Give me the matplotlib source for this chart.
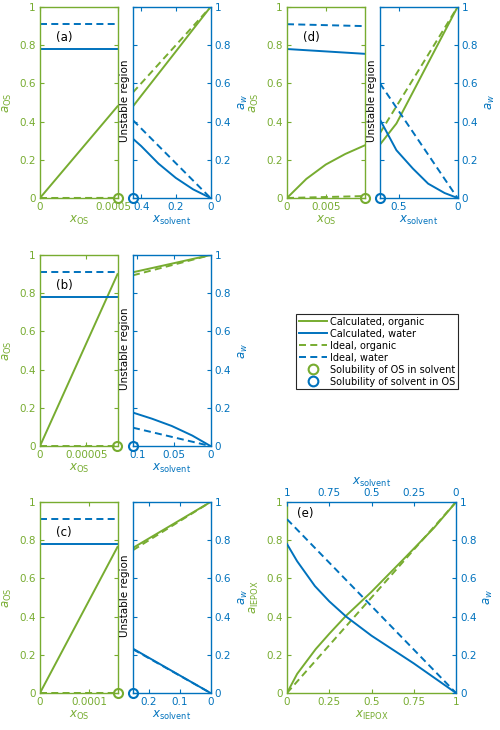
import matplotlib
matplotlib.use('Agg')
import matplotlib.pyplot as plt
import matplotlib.transforms as mtransforms
from matplotlib.lines import Line2D

GREEN = '#77AC30'
BLUE = '#0072BD'
DASH = (0, (3.6, 2.2))

YTICKS = [0, 0.2, 0.4, 0.6, 0.8, 1]
YTICKLABELS = ['0', '0.2', '0.4', '0.6', '0.8', '1']

# ---- panel (a) ----
A_XOS = [0, 0.0005]
A_OS_CALC = [0, 0.48]
A_OS_IDEAL = [0, 0.0005]
A_W_CALC_OS = [0.78, 0.78]
A_W_IDEAL_OS = [0.91, 0.91]
A_XOS_TICKS = [0, 0.0005]
A_XOS_LABELS = ['0', '0.0005']
A_XSOLV = [0.447, 0.4, 0.3, 0.2, 0.1, 0]
A_ORG_CALC = [0.48, 0.535, 0.651, 0.767, 0.884, 1.0]
A_W_CALC = [0.31, 0.272, 0.18, 0.105, 0.045, 0]
A_XSOLV_IDEAL = [0.447, 0]
A_ORG_IDEAL = [0.553, 1]
A_W_IDEAL = [0.407, 0]
A_XSOLV_TICKS = [0.4, 0.2, 0]
A_XSOLV_LABELS = ['0.4', '0.2', '0']

# ---- panel (b) ----
B_XOS = [0, 0.000084]
B_OS_CALC = [0, 0.90]
B_OS_IDEAL = [0, 0.000084]
B_W_CALC_OS = [0.78, 0.78]
B_W_IDEAL_OS = [0.91, 0.91]
B_XOS_TICKS = [0, 0.00005]
B_XOS_LABELS = ['0', '0.00005']
B_XSOLV = [0.106, 0.08, 0.053, 0.025, 0]
B_ORG_CALC = [0.91, 0.932, 0.955, 0.979, 1.0]
B_W_CALC = [0.175, 0.143, 0.105, 0.055, 0]
B_XSOLV_IDEAL = [0.106, 0]
B_ORG_IDEAL = [0.894, 1]
B_W_IDEAL = [0.096, 0]
B_XSOLV_TICKS = [0.1, 0.05, 0]
B_XSOLV_LABELS = ['0.1', '0.05', '0']

# ---- panel (c) ----
C_XOS = [0, 0.000157]
C_OS_CALC = [0, 0.765]
C_OS_IDEAL = [0, 0.000157]
C_W_CALC_OS = [0.78, 0.78]
C_W_IDEAL_OS = [0.91, 0.91]
C_XOS_TICKS = [0, 0.0001]
C_XOS_LABELS = ['0', '0.0001']
C_XSOLV = [0.252, 0]
C_ORG_CALC = [0.76, 1.0]
C_W_CALC = [0.232, 0]
C_XSOLV_IDEAL = [0.252, 0]
C_ORG_IDEAL = [0.748, 1]
C_W_IDEAL = [0.229, 0]
C_XSOLV_TICKS = [0.2, 0.1, 0]
C_XSOLV_LABELS = ['0.2', '0.1', '0']

# ---- panel (d) ----
D_XOS = [0, 0.0025, 0.005, 0.0075, 0.01]
D_OS_CALC = [0, 0.10, 0.175, 0.23, 0.275]
D_XOS_LINE = [0, 0.01]
D_OS_IDEAL = [0, 0.01]
D_W_CALC_OS = [0.78, 0.755]
D_W_IDEAL_OS = [0.91, 0.90]
D_XOS_TICKS = [0, 0.005]
D_XOS_LABELS = ['0', '0.005']
D_XSOLV = [0.66, 0.52, 0.38, 0.25, 0.11, 0]
D_ORG_CALC = [0.28, 0.39, 0.554, 0.707, 0.871, 1.0]
D_W_CALC = [0.41, 0.25, 0.154, 0.075, 0.026, 0]
D_XSOLV_IDEAL = [0.66, 0]
D_ORG_IDEAL = [0.34, 1]
D_W_IDEAL = [0.60, 0]
D_XSOLV_TICKS = [0.5, 0]
D_XSOLV_LABELS = ['0.5', '0']

# ---- panel (e) ----
E_XIEPOX = [0, 0.06, 0.17, 0.25, 0.35, 0.5, 0.7, 0.87, 1]
E_IEPOX_CALC = [0, 0.10, 0.23, 0.31, 0.405, 0.53, 0.71, 0.865, 1]
E_XIEPOX_IDEAL = [0, 1]
E_IEPOX_IDEAL = [0, 1]
E_XSOLV = [1, 0.94, 0.835, 0.75, 0.65, 0.5, 0.25, 0]
E_W_CALC = [0.78, 0.69, 0.56, 0.48, 0.40, 0.30, 0.155, 0]
E_XSOLV_IDEAL = [1, 0]
E_W_IDEAL = [0.91, 0]
E_TICKS = [0, 0.25, 0.5, 0.75, 1]
E_TICKLABELS = ['0', '0.25', '0.5', '0.75', '1']

LW = 1.4


def style(ax, color):
    for sp in ax.spines.values():
        sp.set_color(color)
        sp.set_linewidth(1.0)
    ax.tick_params(which='both', direction='in', length=3, width=0.8,
                   colors=color, labelsize=7.5, pad=3)


def split_panel(fig, rect_l, rect_r, tag, left, right):
    # left: organic-rich side, x_OS axis
    ax = fig.add_axes(rect_l)
    style(ax, GREEN)
    (xos, os_calc), (xos_i, os_ideal), (xw, w_calc), (xw_i, w_ideal), ticks, labels = left
    ax.plot(xos, os_calc, color=GREEN, lw=LW)
    ax.plot(xos_i, os_ideal, color=GREEN, lw=LW, ls=DASH)
    ax.plot(xw, w_calc, color=BLUE, lw=LW)
    ax.plot(xw_i, w_ideal, color=BLUE, lw=LW, ls=DASH)
    ax.plot([xos[-1]], [0], 'o', mfc='none', mec=GREEN, ms=6.5, mew=1.5,
            clip_on=False, zorder=10)
    ax.set_xlim(0, xos[-1])
    ax.set_ylim(0, 1)
    ax.set_xticks(ticks)
    ax.set_xticklabels(labels)
    ax.set_yticks(YTICKS)
    ax.set_yticklabels(YTICKLABELS)
    ax.tick_params(top=True, right=True, labelleft=True, labelright=False)
    # the edge label sits a bit left of the axis end, as in the original
    shift = mtransforms.ScaledTranslation(-3 / 72, 0, fig.dpi_scale_trans)
    for lab in ax.get_xticklabels():
        if lab.get_text() == labels[-1] and ticks[-1] >= xos[-1] * 0.99:
            lab.set_transform(lab.get_transform() + shift)
    ax.set_xlabel(r'$x_{\mathrm{OS}}$', color=GREEN, fontsize=8.5, labelpad=1)
    ax.set_ylabel(r'$a_{\mathrm{OS}}$', color=GREEN, fontsize=8.5, labelpad=3.5)
    ax.text(0.31, 0.84, tag, transform=ax.transAxes, ha='center', va='center',
            fontsize=8.5, color='black')

    # right: solvent-rich side, x_solvent axis
    ar = fig.add_axes(rect_r)
    style(ar, BLUE)
    xs, org_calc, w_calc_r, xs_i, org_ideal, w_ideal_r, sticks, slabels = right
    ar.plot(xs, org_calc, color=GREEN, lw=LW)
    ar.plot(xs_i, org_ideal, color=GREEN, lw=LW, ls=DASH)
    ar.plot(xs, w_calc_r, color=BLUE, lw=LW)
    ar.plot(xs_i, w_ideal_r, color=BLUE, lw=LW, ls=DASH)
    ar.plot([xs[0]], [0], 'o', mfc='none', mec=BLUE, ms=6.5, mew=1.5,
            clip_on=False, zorder=10)
    ar.set_xlim(xs[0], 0)
    ar.set_ylim(0, 1)
    ar.set_xticks(sticks)
    ar.set_xticklabels(slabels)
    ar.set_yticks(YTICKS)
    ar.set_yticklabels(YTICKLABELS)
    ar.tick_params(top=True, left=True, right=True, labelleft=False, labelright=True)
    ar.yaxis.set_label_position('right')
    ar.set_xlabel(r'$x_{\mathrm{solvent}}$', color=BLUE, fontsize=8.5, labelpad=1)
    ar.set_ylabel(r'$a_w$', color=BLUE, fontsize=8.5, labelpad=4)
    ar.text(-0.1, 0.51, 'Unstable region', transform=ar.transAxes, rotation=90,
            ha='center', va='center', fontsize=7.5, color='black', zorder=20)


fig = plt.figure(figsize=(5, 7.3), dpi=100)

H = 0.2616
ROWS = [0.7288, 0.389, 0.0507]
COL0 = (0.080, 0.266)
COL1 = (0.574, 0.760)
W = 0.155

split_panel(fig, [COL0[0], ROWS[0], W, H], [COL0[1], ROWS[0], W, H], '(a)',
            ((A_XOS, A_OS_CALC), (A_XOS, A_OS_IDEAL), (A_XOS, A_W_CALC_OS),
             (A_XOS, A_W_IDEAL_OS), A_XOS_TICKS, A_XOS_LABELS),
            (A_XSOLV, A_ORG_CALC, A_W_CALC, A_XSOLV_IDEAL, A_ORG_IDEAL, A_W_IDEAL,
             A_XSOLV_TICKS, A_XSOLV_LABELS))
split_panel(fig, [COL0[0], ROWS[1], W, H], [COL0[1], ROWS[1], W, H], '(b)',
            ((B_XOS, B_OS_CALC), (B_XOS, B_OS_IDEAL), (B_XOS, B_W_CALC_OS),
             (B_XOS, B_W_IDEAL_OS), B_XOS_TICKS, B_XOS_LABELS),
            (B_XSOLV, B_ORG_CALC, B_W_CALC, B_XSOLV_IDEAL, B_ORG_IDEAL, B_W_IDEAL,
             B_XSOLV_TICKS, B_XSOLV_LABELS))
split_panel(fig, [COL0[0], ROWS[2], W, H], [COL0[1], ROWS[2], W, H], '(c)',
            ((C_XOS, C_OS_CALC), (C_XOS, C_OS_IDEAL), (C_XOS, C_W_CALC_OS),
             (C_XOS, C_W_IDEAL_OS), C_XOS_TICKS, C_XOS_LABELS),
            (C_XSOLV, C_ORG_CALC, C_W_CALC, C_XSOLV_IDEAL, C_ORG_IDEAL, C_W_IDEAL,
             C_XSOLV_TICKS, C_XSOLV_LABELS))
split_panel(fig, [COL1[0], ROWS[0], W, H], [COL1[1], ROWS[0], W, H], '(d)',
            ((D_XOS, D_OS_CALC), (D_XOS_LINE, D_OS_IDEAL), (D_XOS_LINE, D_W_CALC_OS),
             (D_XOS_LINE, D_W_IDEAL_OS), D_XOS_TICKS, D_XOS_LABELS),
            (D_XSOLV, D_ORG_CALC, D_W_CALC, D_XSOLV_IDEAL, D_ORG_IDEAL, D_W_IDEAL,
             D_XSOLV_TICKS, D_XSOLV_LABELS))

# ---- panel (e) ----
rect_e = [COL1[0], ROWS[2], 0.338, H]
ae = fig.add_axes(rect_e)
style(ae, GREEN)
ae.spines['top'].set_visible(False)
ae.spines['right'].set_visible(False)
ae.plot(E_XIEPOX, E_IEPOX_CALC, color=GREEN, lw=LW)
ae.plot(E_XIEPOX_IDEAL, E_IEPOX_IDEAL, color=GREEN, lw=LW, ls=DASH)
ae.set_xlim(0, 1)
ae.set_ylim(0, 1)
ae.set_xticks(E_TICKS)
ae.set_xticklabels(E_TICKLABELS)
ae.set_yticks(YTICKS)
ae.set_yticklabels(YTICKLABELS)
ae.set_xlabel(r'$x_{\mathrm{IEPOX}}$', color=GREEN, fontsize=8.5, labelpad=1)
ae.set_ylabel(r'$a_{\mathrm{IEPOX}}$', color=GREEN, fontsize=8.5, labelpad=3.5)
ae.text(0.106, 0.94, '(e)', transform=ae.transAxes, ha='center', va='center',
        fontsize=8.5, color='black')

aw = fig.add_axes(rect_e, facecolor='none')
style(aw, BLUE)
aw.spines['bottom'].set_visible(False)
aw.spines['left'].set_visible(False)
aw.plot(E_XSOLV, E_W_CALC, color=BLUE, lw=LW)
aw.plot(E_XSOLV_IDEAL, E_W_IDEAL, color=BLUE, lw=LW, ls=DASH)
aw.set_xlim(1, 0)
aw.set_ylim(0, 1)
aw.xaxis.tick_top()
aw.yaxis.tick_right()
aw.xaxis.set_label_position('top')
aw.yaxis.set_label_position('right')
aw.set_xticks(E_TICKS)
aw.set_xticklabels(E_TICKLABELS)
aw.set_yticks(YTICKS)
aw.set_yticklabels(YTICKLABELS)
aw.set_xlabel(r'$x_{\mathrm{solvent}}$', color=BLUE, fontsize=8.5, labelpad=2)
aw.set_ylabel(r'$a_w$', color=BLUE, fontsize=8.5, labelpad=4)

# ---- legend ----
handles = [
    Line2D([], [], color=GREEN, lw=LW, label='Calculated, organic'),
    Line2D([], [], color=BLUE, lw=LW, label='Calculated, water'),
    Line2D([], [], color=GREEN, lw=LW, ls=DASH, label='Ideal, organic'),
    Line2D([], [], color=BLUE, lw=LW, ls=DASH, label='Ideal, water'),
    Line2D([], [], color=GREEN, marker='o', ls='none', mfc='none', ms=7, mew=1.5,
           label='Solubility of OS in solvent'),
    Line2D([], [], color=BLUE, marker='o', ls='none', mfc='none', ms=7, mew=1.5,
           label='Solubility of solvent in OS'),
]
leg = fig.legend(handles=handles, loc='upper left', bbox_to_anchor=(0.592, 0.570),
                 fontsize=7, frameon=True, fancybox=False, edgecolor='#262626',
                 framealpha=1, handlelength=2.9, handletextpad=0.3,
                 labelspacing=0.2, borderpad=0.3, borderaxespad=0)
leg.get_frame().set_linewidth(0.8)

fig.savefig('out.png', dpi=100)
